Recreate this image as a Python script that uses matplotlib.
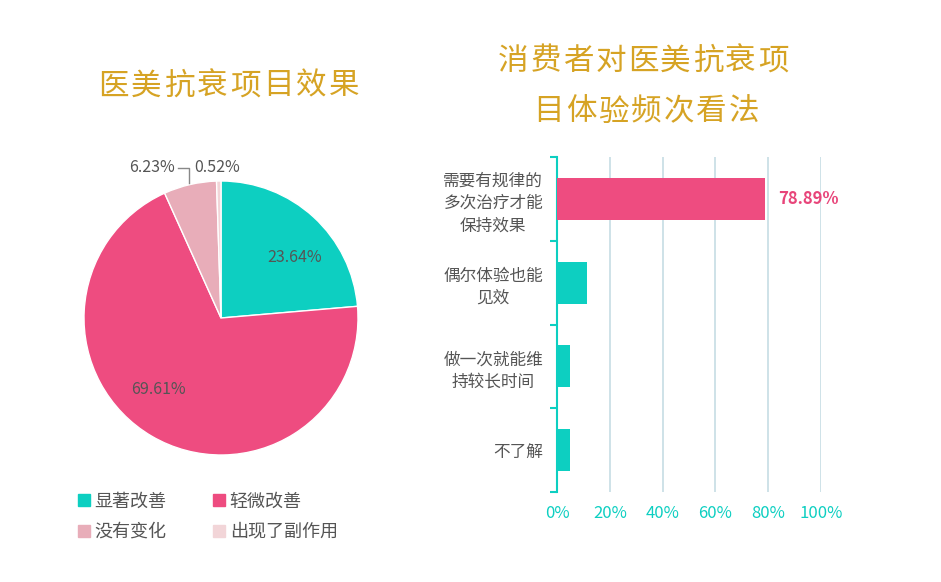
import matplotlib
matplotlib.use("Agg")
import matplotlib.pyplot as plt
from matplotlib.lines import Line2D

plt.rcParams['font.family'] = ['Noto Sans CJK SC', 'DejaVu Sans']

# pie data
pie_labels = ['显著改善', '轻微改善', '没有变化', '出现了副作用']
pie_values = [23.64, 69.61, 6.23, 0.52]
pie_colors = ['#0dcfc1', '#ee4c80', '#e8adb9', '#f2d5d8']

# bar data
bar_labels = ['需要有规律的\n多次治疗才能\n保持效果', '偶尔体验也能\n见效', '做一次就能维\n持较长时间', '不了解']
bar_values = [78.89, 11.5, 4.8, 4.8]
bar_colors = ['#ee4c80', '#0dcfc1', '#0dcfc1', '#0dcfc1']
xticks = [0, 20, 40, 60, 80, 100]

gold = '#d6a324'
teal = '#0dcfc1'
gray = '#555555'

W, H = 941, 582
fig = plt.figure(figsize=(9.41, 5.82), dpi=100)


def spaced_title(text, xc, yc, step, size):
    n = len(text)
    x0 = xc - step * (n - 1) / 2
    for i, ch in enumerate(text):
        fig.text((x0 + i * step) / W, 1 - yc / H, ch, ha='center', va='center',
                 fontsize=size, color=gold, fontweight='light')


spaced_title('医美抗衰项目效果', 229, 86, 33, 22)
spaced_title('消费者对医美抗衰项', 643, 61, 32.5, 22)
spaced_title('目体验频次看法', 646, 112, 32.5, 22)

# ---- pie ----
cx, cy, r = 221, 318, 137
ax1 = fig.add_axes([(cx - r) / W, 1 - (cy + r) / H, 2 * r / W, 2 * r / H])
ax1.pie(pie_values, colors=pie_colors, startangle=90, counterclock=False,
        wedgeprops=dict(edgecolor='white', linewidth=1))
ax1.set_xlim(-1, 1)
ax1.set_ylim(-1, 1)
ax1.set_aspect('auto')
ax1.axis('off')

ax1.text(0.54, 0.445, '23.64%', ha='center', va='center', fontsize=11.5, color=gray)
ax1.text(-0.46, -0.525, '69.61%', ha='center', va='center', fontsize=11.5, color=gray)
ax1.text(-0.50, 1.095, '6.23%', ha='center', va='center', fontsize=11.5, color=gray)
ax1.text(-0.03, 1.095, '0.52%', ha='center', va='center', fontsize=11.5, color=gray)
ax1.plot([-0.315, -0.234, -0.234], [1.095, 1.095, 0.985], color='#888888', lw=1,
         clip_on=False)

# legend filled row by row like the original
order = [0, 2, 1, 3]
handles = [Line2D([], [], marker='s', ls='', markersize=8, color=pie_colors[i]) for i in order]
fig.legend(handles, [pie_labels[i] for i in order], ncol=2, loc='upper left',
           bbox_to_anchor=(62 / W, 1 - 476 / H), frameon=False, fontsize=13,
           handlelength=0.6, handletextpad=0.3, columnspacing=2.6,
           labelspacing=0.7, labelcolor=gray)

# ---- bars ----
ax2 = fig.add_axes([557 / W, 1 - 492 / H, 264 / W, 335 / H])
ypos = list(range(len(bar_values)))
ax2.barh(ypos, bar_values, height=0.5, color=bar_colors, zorder=3)
ax2.set_ylim(len(bar_values) - 0.5, -0.5)
ax2.set_xlim(0, 100)
ax2.set_xticks(xticks)
ax2.set_xticklabels([f'{v}%' for v in xticks], color=teal, fontsize=12)
ax2.set_yticks(ypos)
ax2.set_yticklabels(bar_labels, fontsize=12, color=gray, multialignment='center',
                    linespacing=1.4)
ax2.set_yticks([i - 0.5 for i in range(len(bar_values) + 1)], minor=True)
ax2.tick_params(axis='y', which='major', length=0, pad=10)
ax2.tick_params(axis='y', which='minor', length=5, color=teal, width=1.5)
ax2.tick_params(axis='x', length=0, pad=9)
for s in ['top', 'right', 'bottom']:
    ax2.spines[s].set_visible(False)
ax2.spines['left'].set_color(teal)
ax2.spines['left'].set_linewidth(1.5)
ax2.grid(axis='x', color='#c6dde4', lw=1.2, zorder=0)
ax2.text(bar_values[0] + 5, 0, f'{bar_values[0]:.2f}%', va='center', ha='left',
         fontsize=12, fontweight='bold', color='#e8457a')

fig.savefig('out.png', dpi=100)
